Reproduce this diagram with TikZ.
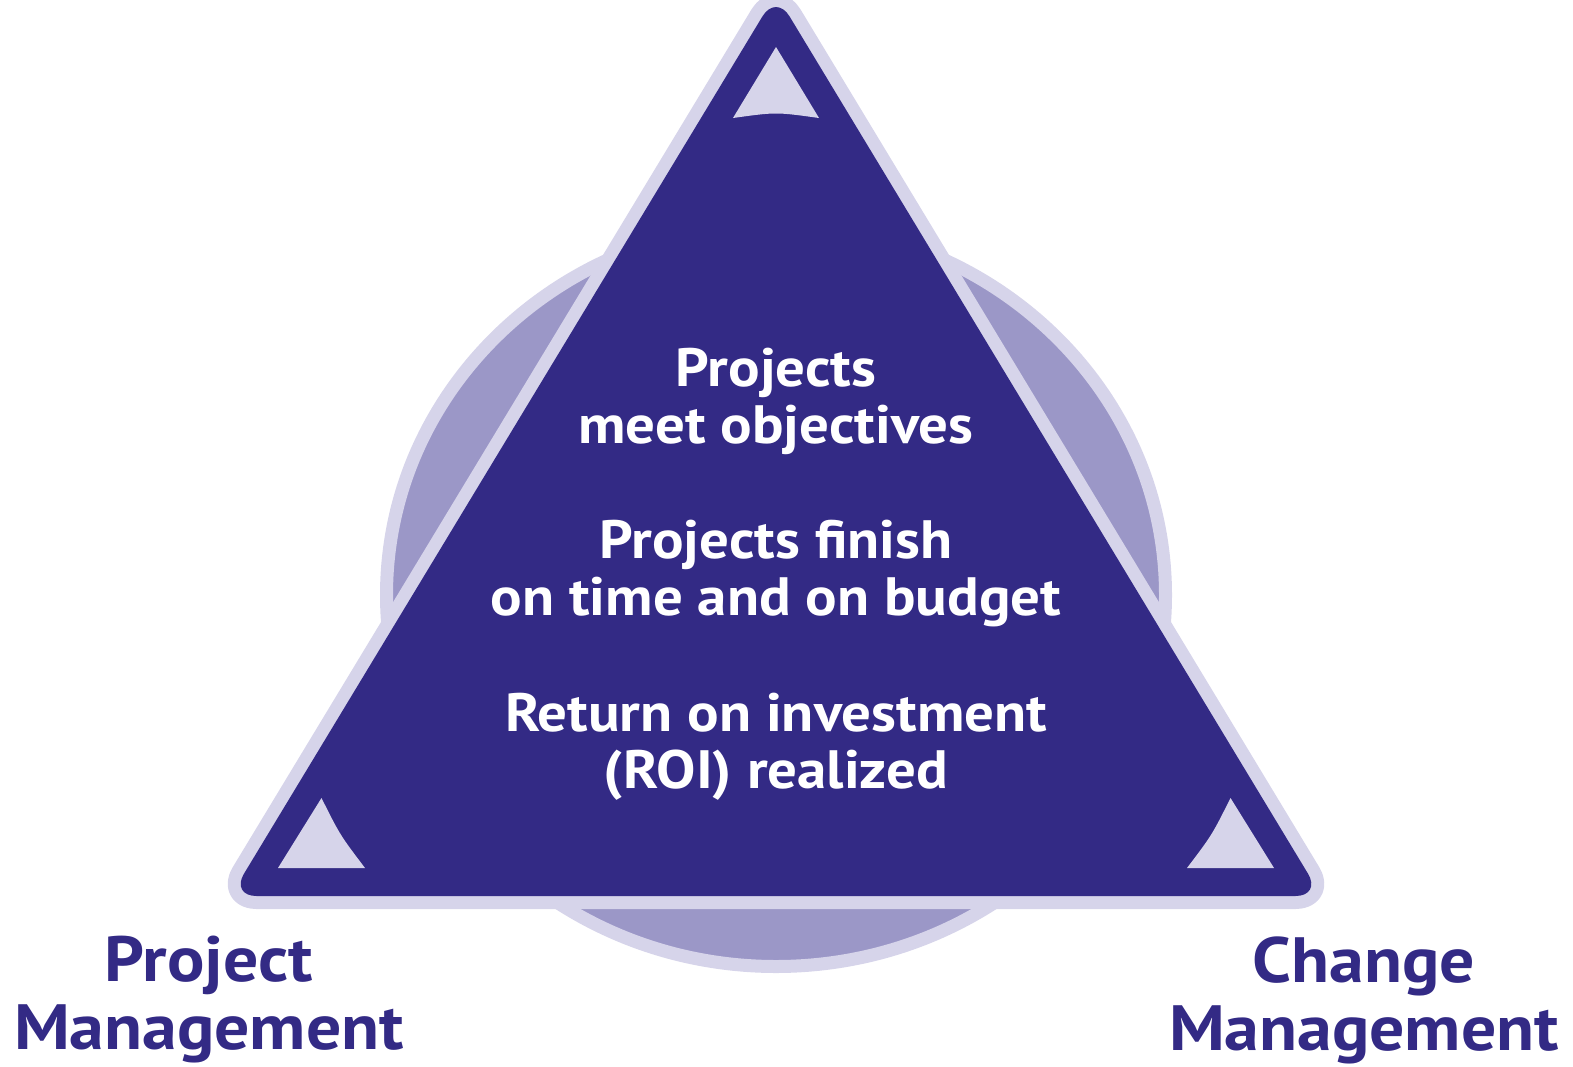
\documentclass[tikz,border=0pt]{standalone}
\usepackage{fontspec}
\setmainfont{PT Sans}[FakeStretch=1.09]
\usetikzlibrary{positioning}
\definecolor{navy}{RGB}{51,42,133}
\definecolor{lilac}{RGB}{155,151,199}
\definecolor{pale}{RGB}{214,212,234}
\tikzstyle{ring} = [draw=pale, 
fill=lilac, 
line width=6.5pt]
\tikzstyle{pyramid} = [fill=navy, 
preaction={draw=pale, line width=13pt, line join=round}, 
rounded corners=13pt]
\tikzstyle{corner} = [fill=pale]
\tikzstyle{goal} = [text=white, 
font=\bfseries\fontsize{27}{28.5}\selectfont, 
align=center]
\tikzstyle{label} = [text=navy, 
font=\bfseries\fontsize{32}{34}\selectfont, 
align=center]

\begin{document}
\begin{tikzpicture}[x=0.5pt, y=-0.5pt, node distance=86.5pt]
\useasboundingbox (0,0) rectangle (1573,1066);

% circle behind
\draw [ring] (776,595) ellipse [x radius=389.5, y radius=371.5];

% triangle
\coordinate (top) at (776,-6);
\coordinate (left) at (230.5,896);
\coordinate (right) at (1321.5,896);
\path [pyramid] (top) -- (right) -- (left) -- cycle;

% corner marks
\path [corner] (776,47) -- (819,118) .. controls (776,112) .. (733,118) -- cycle;
\path [corner] (321.5,798) -- (278,868) -- (365,868) .. controls (340,835) .. cycle;
\path [corner] (1230.5,798) -- (1274,868) -- (1187,868) .. controls (1212,835) .. cycle;

\node (goal2) [goal] at (776,574) {Projects finish\\on time and on budget};
\node (goal1) [goal, above of=goal2] {Projects\\meet objectives};
\node (goal3) [goal, below of=goal2] {Return on investment\\(ROI) realized};

\node (pm) [label] at (209,1000) {Project\\Management};
\node (cm) [label] at (1364,1000) {Change\\Management};

\end{tikzpicture}
\end{document}
